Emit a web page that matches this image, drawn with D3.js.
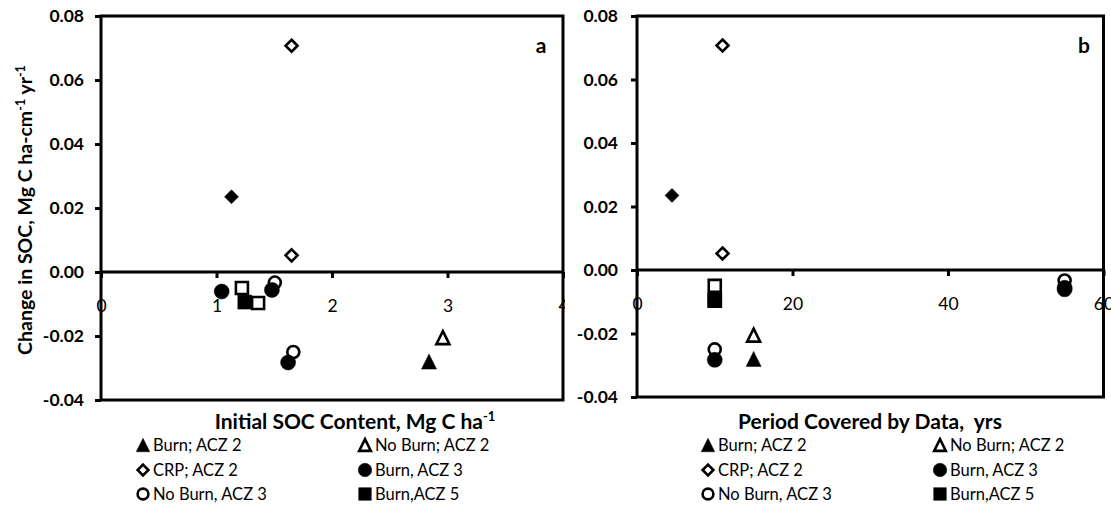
<!DOCTYPE html>
<html>
<head>
<meta charset="utf-8">
<script src="https://cdn.jsdelivr.net/npm/d3@7"></script>
<style>
  body { margin: 0; background: #fff; }
  svg { display: block; }
  text { font-family: Lato, "Open Sans", sans-serif; fill: #000; white-space: pre; }
</style>
</head>
<body>
<svg id="chart" width="1111" height="514"></svg>
<script>
// ---- data: y is the change in SOC; x differs per panel ----
const yTicks = [-0.04, -0.02, 0.00, 0.02, 0.04, 0.06, 0.08];
const initialSocTicks = [0, 1, 2, 3, 4];
const periodTicks = [0, 20, 40, 60];

const burnAcz2Y = [-0.028];
const burnAcz2Initial = [2.84];
const burnAcz2Period = [15];

const noBurnAcz2Y = [-0.0205];
const noBurnAcz2Initial = [2.96];
const noBurnAcz2Period = [15];

const crpAcz2Y = [0.0707, 0.0052];
const crpAcz2Initial = [1.65, 1.65];
const crpAcz2Period = [11, 11];

const crpOtherY = [0.0235];
const crpOtherInitial = [1.13];
const crpOtherPeriod = [4.5];

const noBurnAcz5Y = [-0.005, -0.0097];
const noBurnAcz5Initial = [1.22, 1.36];
const noBurnAcz5Period = [10, 10];

const burnAcz5Y = [-0.0094];
const burnAcz5Initial = [1.245];
const burnAcz5Period = [10];

const noBurnAcz3Y = [-0.0033, -0.025];
const noBurnAcz3Initial = [1.505, 1.665];
const noBurnAcz3Period = [55, 10];

const burnAcz3Y = [-0.0061, -0.0056, -0.0283];
const burnAcz3Initial = [1.045, 1.48, 1.62];
const burnAcz3Period = [55, 55, 10];

// series in drawing order
const series = [
  { label: "Burn; ACZ 2",     shape: "triangle", filled: true,  y: burnAcz2Y,   xa: burnAcz2Initial,   xb: burnAcz2Period },
  { label: "No Burn; ACZ 2",  shape: "triangle", filled: false, y: noBurnAcz2Y, xa: noBurnAcz2Initial, xb: noBurnAcz2Period },
  { label: "CRP; ACZ 2",      shape: "diamond",  filled: false, y: crpAcz2Y,    xa: crpAcz2Initial,    xb: crpAcz2Period },
  { label: null,              shape: "diamond",  filled: true,  y: crpOtherY,   xa: crpOtherInitial,   xb: crpOtherPeriod },
  { label: null,              shape: "square",   filled: false, y: noBurnAcz5Y, xa: noBurnAcz5Initial, xb: noBurnAcz5Period },
  { label: "Burn,ACZ 5",      shape: "square",   filled: true,  y: burnAcz5Y,   xa: burnAcz5Initial,   xb: burnAcz5Period },
  { label: "No Burn, ACZ 3",  shape: "circle",   filled: false, y: noBurnAcz3Y, xa: noBurnAcz3Initial, xb: noBurnAcz3Period },
  { label: "Burn, ACZ 3",     shape: "circle",   filled: true,  y: burnAcz3Y,   xa: burnAcz3Initial,   xb: burnAcz3Period }
];

// legend layout (two columns, three rows)
const legendOrder = [
  "Burn; ACZ 2", "No Burn; ACZ 2",
  "CRP; ACZ 2", "Burn, ACZ 3",
  "No Burn, ACZ 3", "Burn,ACZ 5"
];

const svg = d3.select("#chart");
// tick numbers with a plain hyphen for negatives
const fmtY = d3.formatLocale({ decimal: ".", thousands: ",", grouping: [3], currency: ["", ""], minus: "-" }).format(".2f");

// marker path centred on its bounding box
function markerPath(shape, s) {
  const h = s / 2;
  if (shape === "triangle") return `M0,${-h}L${h},${h}L${-h},${h}Z`;
  if (shape === "diamond") return `M0,${-h}L${h},0L0,${h}L${-h},0Z`;
  if (shape === "square") return `M${-h},${-h}H${h}V${h}H${-h}Z`;
  // circle
  return `M${h},0A${h},${h} 0 1,1 ${-h},0A${h},${h} 0 1,1 ${h},0Z`;
}

function markerSize(shape, filled) {
  if (shape === "triangle") return filled ? 15 : 13;
  if (shape === "diamond") return filled ? 14 : 12;
  if (shape === "square") return filled ? 14 : 12;
  return filled ? 15 : 12;
}

function drawMarker(g, shape, filled, x, y, scale) {
  const s = markerSize(shape, filled) * (scale || 1);
  g.append("path")
    .attr("transform", `translate(${x},${y})`)
    .attr("d", markerPath(shape, s))
    .attr("fill", filled ? "#000" : "#fff")
    .attr("stroke", "#000")
    .attr("stroke-width", filled ? 0.5 : 2.6)
    .attr("stroke-linejoin", "miter");
}

function drawPanel(opt) {
  const g = svg.append("g");
  // panel background
  g.append("rect")
    .attr("x", opt.bgX).attr("y", 0)
    .attr("width", opt.bgW).attr("height", 514)
    .attr("fill", "#fff");

  const x = d3.scaleLinear().domain(opt.xDomain).range([opt.left, opt.right]);
  const y = d3.scaleLinear().domain([-0.04, 0.08]).range([opt.bottom, opt.top]);

  // y axis
  const yAxis = g.append("g")
    .attr("transform", `translate(${opt.left},0)`)
    .call(d3.axisLeft(y).tickValues(yTicks).tickFormat(fmtY).tickSize(6).tickPadding(opt.yPad));
  yAxis.select(".domain").remove();
  yAxis.selectAll(".tick line").attr("stroke", "#000").attr("stroke-width", 3);
  yAxis.selectAll(".tick text")
    .style("font-family", "Lato, sans-serif")
    .style("font-weight", "bold").style("font-size", "17.5px").attr("fill", "#000");

  // x axis on the zero line
  const xAxis = g.append("g")
    .attr("transform", `translate(0,${y(0)})`)
    .call(d3.axisBottom(x).tickValues(opt.xTicks).tickFormat(d3.format("d")).tickSize(6).tickPadding(22));
  xAxis.select(".domain").remove();
  xAxis.selectAll(".tick line").attr("stroke", "#000").attr("stroke-width", 3);
  xAxis.selectAll(".tick text")
    .style("font-family", "Lato, sans-serif")
    .style("font-size", "17.5px").attr("fill", "#000");

  // zero line
  g.append("line")
    .attr("x1", opt.left).attr("x2", opt.right)
    .attr("y1", y(0)).attr("y2", y(0))
    .attr("stroke", "#000").attr("stroke-width", 3);

  // frame
  g.append("rect")
    .attr("x", opt.left).attr("y", opt.top)
    .attr("width", opt.right - opt.left).attr("height", opt.bottom - opt.top)
    .attr("fill", "none").attr("stroke", "#000").attr("stroke-width", 3);

  // points
  const pts = g.append("g");
  series.forEach(s => {
    const xs = opt.key === "a" ? s.xa : s.xb;
    s.y.forEach((v, i) => drawMarker(pts, s.shape, s.filled, x(xs[i]), y(v)));
  });

  // panel letter
  g.append("text")
    .attr("x", opt.letterX).attr("y", 53)
    .attr("text-anchor", "middle")
    .style("font-weight", "bold").style("font-size", "21px")
    .text(opt.key);

  // x title
  const t = g.append("text")
    .attr("x", opt.titleX).attr("y", 429)
    .attr("text-anchor", "middle")
    .style("font-weight", "bold").style("font-size", "21px");
  t.append("tspan").text(opt.title);
  if (opt.titleSup) {
    t.append("tspan").attr("dy", -8).style("font-size", "13px").text(opt.titleSup);
  }

  // legend
  const lg = g.append("g");
  const rows = [445, 470, 494];
  legendOrder.forEach((name, i) => {
    const s = series.find(d => d.label === name);
    const col = i % 2, row = Math.floor(i / 2);
    const mx = opt.legendCols[col];
    const my = rows[row];
    drawMarker(lg, s.shape, s.filled, mx, my, 0.9);
    lg.append("text")
      .attr("x", mx + 10).attr("y", my + 6)
      .style("font-size", "16.5px")
      .text(name);
  });
}

drawPanel({
  key: "a", bgX: 0, bgW: 565,
  xDomain: [0, 4], xTicks: initialSocTicks,
  left: 101, right: 563, top: 16, bottom: 400, yPad: 11,
  letterX: 541, titleX: 355,
  title: "Initial SOC Content, Mg C ha", titleSup: "-1",
  legendCols: [143, 365]
});

drawPanel({
  key: "b", bgX: 565, bgW: 546,
  xDomain: [0, 60], xTicks: periodTicks,
  left: 637, right: 1103.5, top: 16, bottom: 397, yPad: 13,
  letterX: 1084, titleX: 870,
  title: "Period Covered by Data,  yrs", titleSup: null,
  legendCols: [708, 940]
});

// shared y title
const yt = svg.append("text")
  .attr("transform", "translate(32,210) rotate(-90)")
  .attr("text-anchor", "middle")
  .style("font-weight", "bold").style("font-size", "19.5px");
yt.append("tspan").text("Change in SOC, Mg C ha-cm");
yt.append("tspan").attr("dy", -7).style("font-size", "12.5px").text("-1");
yt.append("tspan").attr("dy", 7).text(" yr");
yt.append("tspan").attr("dy", -7).style("font-size", "12.5px").text("-1");
</script>
</body>
</html>
